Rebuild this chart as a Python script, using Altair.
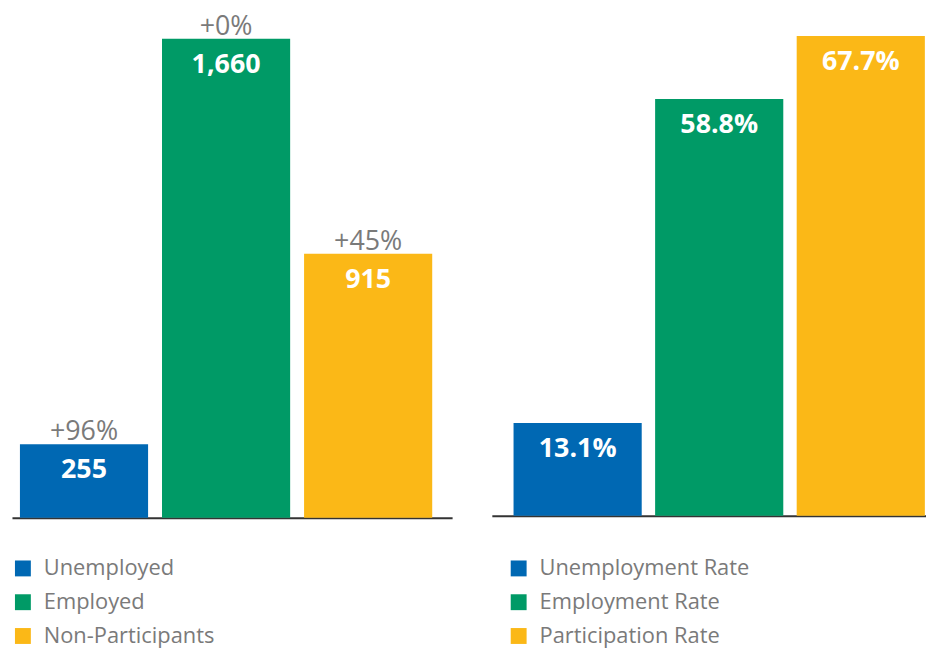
import altair as alt
import pandas as pd

# ---- data ----
count_cats = ["Unemployed", "Employed", "Non-Participants"]
count_vals = [255, 1660, 915]
count_change = [96, 0, 45]

rate_cats = ["Unemployment Rate", "Employment Rate", "Participation Rate"]
rate_vals = [13.1, 58.8, 67.7]

colors = ["#0068b3", "#009a66", "#fbb817"]

FONT = "Open Sans"
GREY = "#7a7a7a"

left_df = pd.DataFrame({"cat": count_cats, "value": count_vals})
left_df["vlabel"] = [f"{v:,}" for v in count_vals]
left_df["clabel"] = [f"+{c}%" for c in count_change]

right_df = pd.DataFrame({"cat": rate_cats, "value": rate_vals})
right_df["vlabel"] = [f"{v:.1f}%" for v in rate_vals]


def panel(df, cats, ymax, width, height, p_inner, p_outer, align, leg_x, with_change):
    x = alt.X(
        "cat:N",
        sort=cats,
        scale=alt.Scale(paddingInner=p_inner, paddingOuter=p_outer, align=align),
        axis=alt.Axis(labels=False, ticks=False, title=None, grid=False,
                      domainColor="#333333", domainWidth=2),
    )
    y = alt.Y("value:Q", scale=alt.Scale(domain=[0, ymax]), axis=None)
    base = alt.Chart(df).encode(x=x, y=y)
    bars = base.mark_bar().encode(
        color=alt.Color(
            "cat:N",
            sort=cats,
            scale=alt.Scale(domain=cats, range=colors),
            legend=alt.Legend(
                title=None, orient="none", legendX=leg_x, legendY=549,
                symbolType="square", symbolSize=256, symbolStrokeWidth=0,
                labelFontSize=22, labelFont=FONT, labelColor=GREY,
                labelOffset=10, rowPadding=12, padding=0, labelLimit=400,
            ),
        )
    )
    vals = base.mark_text(
        baseline="middle", dy=26, color="white", fontWeight="bold",
        fontSize=27, font=FONT,
    ).encode(text="vlabel:N")
    layers = [bars, vals]
    if with_change:
        chg = base.mark_text(
            baseline="middle", dy=-12, color=GREY, fontSize=27, font=FONT,
        ).encode(text="clabel:N")
        layers.append(chg)
    return alt.layer(*layers).properties(width=width, height=height)


left = panel(left_df, count_cats, 1752.9, 443, 509, 0.098, 0.098, 0.286, 0, True)
right = panel(right_df, rate_cats, 71.06, 437, 507, 0.0947, 0.0807, 0.95, 16, False)

chart = (
    alt.hconcat(left, right, spacing=40, bounds="flush")
    .resolve_scale(color="independent", x="independent", y="independent")
    .properties(padding={"left": 4, "top": 2, "right": 0, "bottom": 0})
    .configure_view(strokeWidth=0)
)

chart.save("out.html", embed_options={"renderer": "svg", "actions": False})
